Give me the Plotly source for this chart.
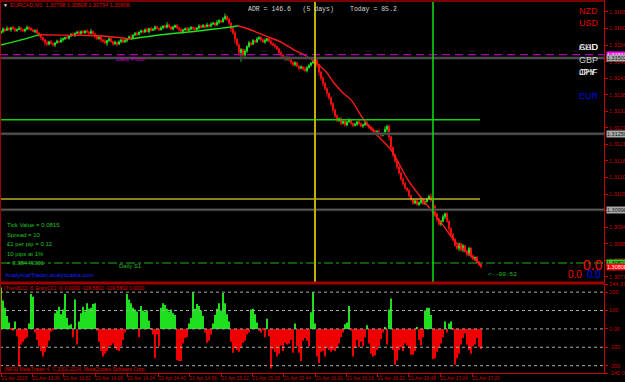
import plotly.graph_objects as go

W, H = 625, 382

# ---------------- data ----------------
# prices given in points above 1.30000 (1 point = 0.00001)
open0 = 1585
close_pts = [
    1590, 1598, 1594, 1600, 1596, 1603, 1599, 1593, 1597, 1601, 1596, 1592, 1598, 1604, 1600, 1595, 1590, 1594,
    1585, 1578, 1570, 1562, 1553, 1548, 1556,
    1550, 1545, 1552, 1558, 1555, 1562,
    1566, 1570, 1568, 1575, 1580, 1578, 1584, 1588, 1583, 1590, 1586, 1592, 1588, 1584, 1590,
    1582, 1574, 1566, 1570, 1562,
    1558, 1552, 1560, 1566, 1556, 1549, 1554, 1548, 1556, 1562, 1555, 1560,
    1566, 1572, 1570, 1578, 1584, 1580, 1588, 1592,
    1588, 1596, 1590, 1600, 1594, 1598, 1605, 1600, 1596, 1602,
    1608, 1604, 1612, 1606, 1598, 1604, 1610, 1602, 1596, 1590,
    1596, 1600, 1594, 1598, 1604, 1600, 1596, 1602, 1608, 1604,
    1610, 1606, 1612, 1608, 1614, 1618, 1612, 1620, 1626, 1622, 1632, 1640,
    1630, 1618, 1600, 1585,
    1565, 1545, 1520, 1530, 1512, 1525,
    1540, 1552, 1548, 1560, 1556, 1565,
    1570, 1562, 1555, 1560, 1566, 1558, 1550, 1545, 1540, 1532,
    1520, 1512, 1505, 1498, 1505, 1495, 1488, 1480, 1486, 1475, 1468, 1472,
    1465, 1460, 1470, 1478, 1485, 1490, 1496,
    1480, 1455, 1435, 1418, 1400, 1385, 1370, 1350,
    1330, 1310, 1295, 1300, 1285, 1292, 1280,
    1290, 1296, 1285, 1278, 1282, 1290, 1284, 1276, 1280, 1286, 1279, 1272,
    1266, 1260, 1252, 1258, 1250, 1245, 1252, 1265, 1275,
    1240, 1205, 1180, 1160, 1140, 1120,
    1100, 1085, 1070, 1062, 1045, 1032,
    1020, 1028, 1015, 1022, 1030, 1018, 1025, 1035, 1042, 1030,
    1010, 985, 965, 950, 960, 975,
    985, 960, 935, 915, 900,
    880, 870, 885, 865, 878, 860, 850, 870,
    845, 835, 840, 825, 815, 808,
]
wick_up = [
    4, 6, 3, 8, 5, 2, 6, 4, 3, 7, 5, 4, 2, 6, 3, 5, 4, 2, 6, 3,
    5, 2, 4, 7, 3, 6, 4, 3, 5, 2, 8, 4, 3, 6, 2, 5, 7, 3, 4, 6,
    3, 5, 2, 6, 4, 9, 3, 5, 2, 4, 6, 3, 7, 2, 5, 4, 3, 6, 2, 5,
    4, 3, 6, 2, 5, 8, 3, 4, 6, 2, 5, 3, 4, 7, 2, 6, 3, 5, 4, 2,
    6, 3, 5, 9, 4, 2, 6, 3, 5, 4, 7, 2, 3, 5, 6, 4, 2, 5, 3, 6,
    4, 5, 3, 7, 2, 6, 4, 3, 8, 5, 2, 6, 10, 4, 6, 3, 5, 8, 4, 6,
    5, 3, 6, 4, 7, 3, 5, 2, 6, 4, 3, 5, 7, 2, 4, 6, 3, 5, 2, 4,
    6, 3, 5, 2, 4, 7, 3, 5, 4, 2, 6, 3, 8, 5, 3, 4, 9, 6, 5, 3,
    4, 6, 3, 5, 2, 4, 6, 3, 5, 4, 7, 2, 5, 3, 6, 4, 3, 5, 2, 6,
    4, 3, 5, 7, 2, 4, 6, 3, 5, 8, 4, 3, 10, 5, 6, 4, 3, 5, 2, 4,
    3, 5, 4, 2, 6, 3, 5, 4, 7, 3, 5, 8, 4, 3, 6, 10, 4, 5, 3, 6,
    4, 7, 3, 5, 2, 4, 6, 3, 5, 4, 2, 6, 3, 5, 4, 3, 5, 2, 4, 3,
    2,
]
wick_dn = [
    3, 5, 6, 2, 4, 7, 3, 5, 4, 2, 6, 3, 5, 4, 7, 3, 2, 5, 4, 6,
    8, 5, 10, 6, 4, 3, 5, 7, 2, 4, 3, 6, 4, 2, 5, 3, 4, 6, 3, 5,
    4, 2, 5, 3, 6, 4, 2, 7, 5, 3, 8, 6, 4, 10, 5, 3, 6, 4, 7, 3,
    5, 4, 2, 6, 3, 5, 4, 2, 6, 3, 5, 4, 3, 2, 6, 4, 3, 5, 2, 4,
    3, 5, 2, 4, 6, 3, 5, 2, 4, 7, 3, 6, 4, 2, 5, 3, 6, 4, 2, 5,
    4, 2, 6, 3, 5, 4, 2, 6, 3, 5, 4, 2, 3, 5, 8, 12, 6, 15, 4, 10,
    30, 8, 12, 6, 4, 5, 3, 6, 4, 2, 5, 3, 6, 4, 5, 7, 3, 6, 4, 5,
    8, 5, 6, 4, 3, 7, 5, 6, 4, 8, 3, 5, 4, 6, 3, 5, 2, 4, 10, 12,
    8, 10, 6, 12, 8, 9, 10, 8, 6, 5, 7, 4, 6, 5, 3, 6, 5, 4, 6, 5,
    4, 6, 3, 5, 7, 4, 6, 5, 8, 4, 6, 3, 5, 8, 12, 10, 8, 6, 7, 5,
    6, 8, 5, 4, 7, 5, 6, 4, 3, 5, 6, 4, 5, 3, 4, 6, 8, 10, 7, 5,
    6, 4, 8, 6, 10, 7, 8, 6, 5, 9, 6, 8, 5, 7, 6, 8, 5, 7, 6, 5,
    4,
]
cci = [
    225, 155, 115, 70, 35, -5, -10, 40, -40, -205, -85, -70, -55, -45, 30, 190, 175, -20, -60, -95,
    -120, -150, -125, -100, -65, -15, -8, 85, 100, 120, 80, 105, 190, 60, 20, 25, -45, 160, -85, 40,
    85, 120, 95, 140, 110, 115, 135, 140, -10, -70, -120, -150, -135, -120, -95, -90, -80, -105, -115, -120,
    -95, -60, -20, 190, 160, 140, 115, 105, 95, -45, 125, 100, 95, 100, 45, -5, -30, -160, -30, -95,
    115, 140, 130, 110, 95, 105, 85, 75, -170, -175, -175, -80, -50, -45, 30, 60, 200, 110, 135, 125,
    100, 70, -20, -75, -65, -30, 30, 75, 110, 140, 100, 195, 140, 80, 40, -70, -130, -105, -115, -125,
    -100, -75, -65, -30, -20, 105, 110, 80, 35, -12, -20, -8, -45, 55, -40, -215, -110, -125, -150, -135,
    -90, -120, -75, -85, -80, -60, -130, 30, -95, -130, -175, -65, -50, -65, -95, 90, 200, 30, -150, -185,
    -125, -120, -150, -105, -115, -125, -115, -120, -100, -80, -45, -20, 25, 35, 125, -10, -150, -105, -60, -100,
    -70, -95, -45, 20, -80, -135, -150, -145, -115, -95, -55, -20, 7, -85, 105, 165, -115, -195, -170, -115,
    -100, -120, -80, -90, -105, -140, -140, -120, 5, -60, -90, -45, 100, 115, 115, 75, -165, -160, -125, -105,
    -80, -45, 40, -20, 30, 40, -5, -195, -160, -135, -85, -50, -25, -85, -115, -135, -95, -85, -50, -100,
    -110,
]
# moving average (bar position, points above 1.30000)
ma_bar = [0, 10, 19, 30, 40, 48.5, 57.5, 65, 80, 95, 107.5, 115, 118.5, 125, 133.5, 140, 146.5, 152.5,
          157.5, 162.5, 166.5, 171, 175, 181.5, 188, 195, 203.5, 209, 215, 221, 226.5, 233.5, 240]
ma_pts = [1545, 1562, 1579, 1578, 1577, 1576, 1571, 1565, 1579, 1589, 1599, 1605, 1609, 1595, 1572, 1555, 1529,
          1509, 1486, 1456, 1419, 1386, 1363, 1296, 1246, 1197, 1097, 1047, 997, 947, 897, 854, 814]

pivot = 1.31513
grey_levels = [1.31502, 1.31250, 1.30998]
green_level = 1.31297
yellow_level = 1.31034
s1_level = 1.30821
bid_price = 1.30808
vline_yellow_bar = 157
vline_green_bar = 216
level_end_bar = 239.5

price_ticks = [1.30775, 1.30830, 1.30885, 1.30940, 1.30995, 1.31050, 1.31105, 1.31160, 1.31215,
               1.31270, 1.31325, 1.31380, 1.31435, 1.31490, 1.31545, 1.31600, 1.31655]
time_tick_bars = [0, 15.5, 31, 47, 63, 78.5, 94, 110, 125.5, 141, 157, 172.5, 188, 203.5, 219.5, 235.5]
time_labels = ["21 Apr 2015", "21 Apr 13:36", "21 Apr 13:52", "21 Apr 14:08", "21 Apr 14:24",
               "21 Apr 14:40", "21 Apr 14:56", "21 Apr 15:12", "21 Apr 15:28", "21 Apr 15:44",
               "21 Apr 16:00", "21 Apr 16:16", "21 Apr 16:32", "21 Apr 16:48", "21 Apr 17:04", "21 Apr 17:20"]
cci_ticks = [244.3726, 200, 100, 0, -100, -200, -240.0034]
cci_tick_text = ["244.3726", "200", "100", "0.00", "-100", "-200", "-240.0034"]
cci_levels = [200, 100, 0, -100, -200]

# ---------------- build ----------------
BASE = 1.3
bars = list(range(len(close_pts)))
opens = [open0] + close_pts[:-1]
o = [BASE + v / 1e5 for v in opens]
c = [BASE + v / 1e5 for v in close_pts]
hi = [BASE + (max(a, b) + u) / 1e5 for a, b, u in zip(opens, close_pts, wick_up)]
lo = [BASE + (min(a, b) - d) / 1e5 for a, b, d in zip(opens, close_pts, wick_dn)]

GREEN = "#1fe01f"
RED = "#f01010"
AXRED = "#c80000"
BORDER = "#a00000"

fig = go.Figure()
fig.add_trace(go.Candlestick(
    x=bars, open=o, high=hi, low=lo, close=c,
    increasing=dict(line=dict(color=GREEN, width=1), fillcolor=GREEN),
    decreasing=dict(line=dict(color=RED, width=1), fillcolor=RED),
    whiskerwidth=0, xaxis="x", yaxis="y", hoverinfo="skip", showlegend=False))

# MA split into rising (green) / falling (red) runs
ma_price = [BASE + v / 1e5 for v in ma_pts]
runs = []
cur = None
for k in range(len(ma_bar) - 1):
    col = "#20e020" if ma_pts[k + 1] > ma_pts[k] else "#ff1a1a"
    if cur is None or cur[0] != col:
        cur = [col, [k]]
        runs.append(cur)
    cur[1].append(k + 1)
for col, idx in runs:
    fig.add_trace(go.Scatter(
        x=[ma_bar[k] for k in idx], y=[ma_price[k] for k in idx], mode="lines",
        line=dict(color=col, width=1.4, shape="spline"), xaxis="x", yaxis="y",
        hoverinfo="skip", showlegend=False))

fig.add_trace(go.Bar(
    x=bars, y=cci, marker=dict(color=[GREEN if v > 0 else "#ee0000" for v in cci], line=dict(width=0)),
    xaxis="x2", yaxis="y2", hoverinfo="skip", showlegend=False))


def px(x):
    return x / W


def py(y):
    return 1 - y / H


XR = [-0.5, 301.5]
XD = [0, 604 / W]
main_top, main_bot = 2, 283
p_top = 1.31688
p_bot = 1.307546

shapes = []


def hline(y, yref, x0, x1, xref, color, width, dash="solid"):
    shapes.append(dict(type="line", xref=xref, yref=yref, x0=x0, x1=x1, y0=y, y1=y,
                       line=dict(color=color, width=width, dash=dash), layer="above"))


for g in grey_levels:
    hline(g, "y", 0, XD[1], "paper", "#2c2c2c", 3)
    hline(g, "y", 0, XD[1], "paper", "#6a6a6a", 1)
hline(pivot, "y", 0, XD[1], "paper", "#b000b0", 1.2, "8px,5px")
hline(green_level, "y", -0.5, level_end_bar, "x", "#10d010", 1.5)
hline(yellow_level, "y", -0.5, level_end_bar, "x", "#b8b020", 1.5)
hline(s1_level, "y", 0, XD[1], "paper", "#20b020", 1, "dashdot")
for v, col, wd in [(vline_yellow_bar, "#bcb000", 2), (vline_green_bar, "#10e010", 1.5)]:
    shapes.append(dict(type="line", xref="x", yref="paper", x0=v, x1=v, y0=py(main_bot), y1=py(main_top),
                       line=dict(color=col, width=wd), layer="above"))
for lv in cci_levels:
    hline(lv, "y2", 0, XD[1], "paper", "#a8a8a8", 1, "dot")

# borders
shapes += [
    dict(type="line", xref="paper", yref="paper", x0=0, x1=px(605), y0=py(1), y1=py(1), line=dict(color=BORDER, width=1.5)),
    dict(type="line", xref="paper", yref="paper", x0=px(0.5), x1=px(0.5), y0=py(1), y1=py(373), line=dict(color=BORDER, width=1)),
    dict(type="line", xref="paper", yref="paper", x0=px(604.5), x1=px(604.5), y0=py(1), y1=py(374), line=dict(color=AXRED, width=1)),
    dict(type="line", xref="paper", yref="paper", x0=0, x1=px(605), y0=py(283), y1=py(283), line=dict(color=BORDER, width=3)),
    dict(type="line", xref="paper", yref="paper", x0=0, x1=px(605), y0=py(373.5), y1=py(373.5), line=dict(color=AXRED, width=1)),
]

anns = []


def ann(text, x, y, size, color, family="Liberation Sans", xanchor="left"):
    anns.append(dict(text=text, x=px(x), y=py(y), xref="paper", yref="paper", xanchor=xanchor,
                     yanchor="middle", showarrow=False, font=dict(size=size, color=color, family=family)))


ann("▼", 1, 5, 5, "#e0e0e0")
ann("EURCAD,M1  1.30798 1.30808 1.30794 1.30808", 8, 5, 5.5, "#e00000")
ann("ADR = 146.6   (5 days)", 246, 10, 6.5, "#d8d8d8", "Liberation Mono")
ann("Today = 85.2", 348, 10, 6.5, "#d8d8d8", "Liberation Mono")
ann("NZD", 577, 11, 9, "#e00000")
ann("USD", 577, 23, 9, "#e00000")
ann("CAD", 577, 47, 9, "#f0f0f0")
ann("AUD", 577, 47, 9, "#f0f0f0")
ann("GBP", 577, 60, 9, "#d0d0d0")
ann("CHF", 577, 72, 9, "#f0f0f0")
ann("JPY", 577, 72, 9, "#f0f0f0")
ann("EUR", 577, 96, 9, "#0000e0")
ann("Daily Pivot", 114, 59, 6, "#c000c0")
ann("Daily S1", 117, 266, 6, "#20b820")
info = ["Tick Value = 0.0815", "Spread = 10", "£1 per pip = 0.12", "10 pips at 1%", "= 3.38449301"]
for k, t in enumerate(info):
    ann(t, 5, 225 + k * 9.6, 6, "#20c020")
ann("AnalyticalTrader.analyticalsa.com", 3, 275, 6, "#1c1cff")
ann("<--00:52", 486, 274, 6, "#20c020", "Liberation Mono")
ann("0.0", 581, 265, 14, "#ff0000")
ann("0.0", 566, 274, 10, "#ff0000")
ann("0.0", 585, 274, 10, "#0000ff")
ann("(TrendCCI: 8, EntryCCI: 0) 0.0000 -109.5802 -109.5802 0.0000", 2, 288, 5, "#e00000")
ann("(MFS) MetaTrader 4, © 2001-2014, MetaQuotes Software Corp.", 2, 369, 5, "#e00000")

# price boxes on right axis
for val, bg, fg in [(pivot, "#ff00ff", "#ffffff"), (grey_levels[0], "#a8a8a8", "#202020"),
                    (grey_levels[1], "#a8a8a8", "#202020"), (grey_levels[2], "#a8a8a8", "#202020"),
                    (s1_level, "#30d030", "#000000"), (bid_price, "#ff0000", "#ffffff")]:
    anns.append(dict(text=f"{val:.5f}", x=px(606), y=val, xref="paper", yref="y", xanchor="left",
                     yanchor="middle", showarrow=False, bgcolor=bg, borderpad=0,
                     font=dict(size=5.5, color=fg, family="Liberation Sans")))

axfont = dict(size=5.5, color=AXRED, family="Liberation Sans")
timefont = dict(size=4.8, color=AXRED, family="Liberation Sans")
fig.update_layout(
    width=W, height=H, autosize=False, margin=dict(l=0, r=0, t=0, b=0, autoexpand=False),
    paper_bgcolor="#000000", plot_bgcolor="#000000", showlegend=False, bargap=0.25,
    shapes=shapes, annotations=anns,
    xaxis=dict(domain=XD, range=XR, anchor="y", visible=False, rangeslider=dict(visible=False),
               fixedrange=True, automargin=False),
    yaxis=dict(domain=[py(main_bot), py(main_top)], range=[p_bot, p_top], anchor="x", side="right",
               tickvals=price_ticks, ticktext=[f"{v:.5f}" for v in price_ticks], ticks="outside", ticklen=3,
               tickcolor=AXRED, tickfont=axfont, automargin=False,
               showgrid=False, zeroline=False, showline=False),
    xaxis2=dict(domain=XD, range=XR, anchor="y2", tickvals=time_tick_bars, ticktext=time_labels,
                ticklabelposition="outside right", ticks="outside", ticklen=3, tickcolor=AXRED,
                tickfont=timefont, tickangle=0, automargin=False,
                showgrid=False, zeroline=False, showline=False),
    yaxis2=dict(domain=[py(373), py(284)], range=[-240.0034, 244.3726], anchor="x2", side="right",
                tickvals=cci_ticks, ticktext=cci_tick_text, ticks="outside", ticklen=3, tickcolor=AXRED,
                tickfont=axfont, automargin=False,
                showgrid=False, zeroline=False, showline=False),
)

fig.write_html("out.html", config={"displayModeBar": False})
